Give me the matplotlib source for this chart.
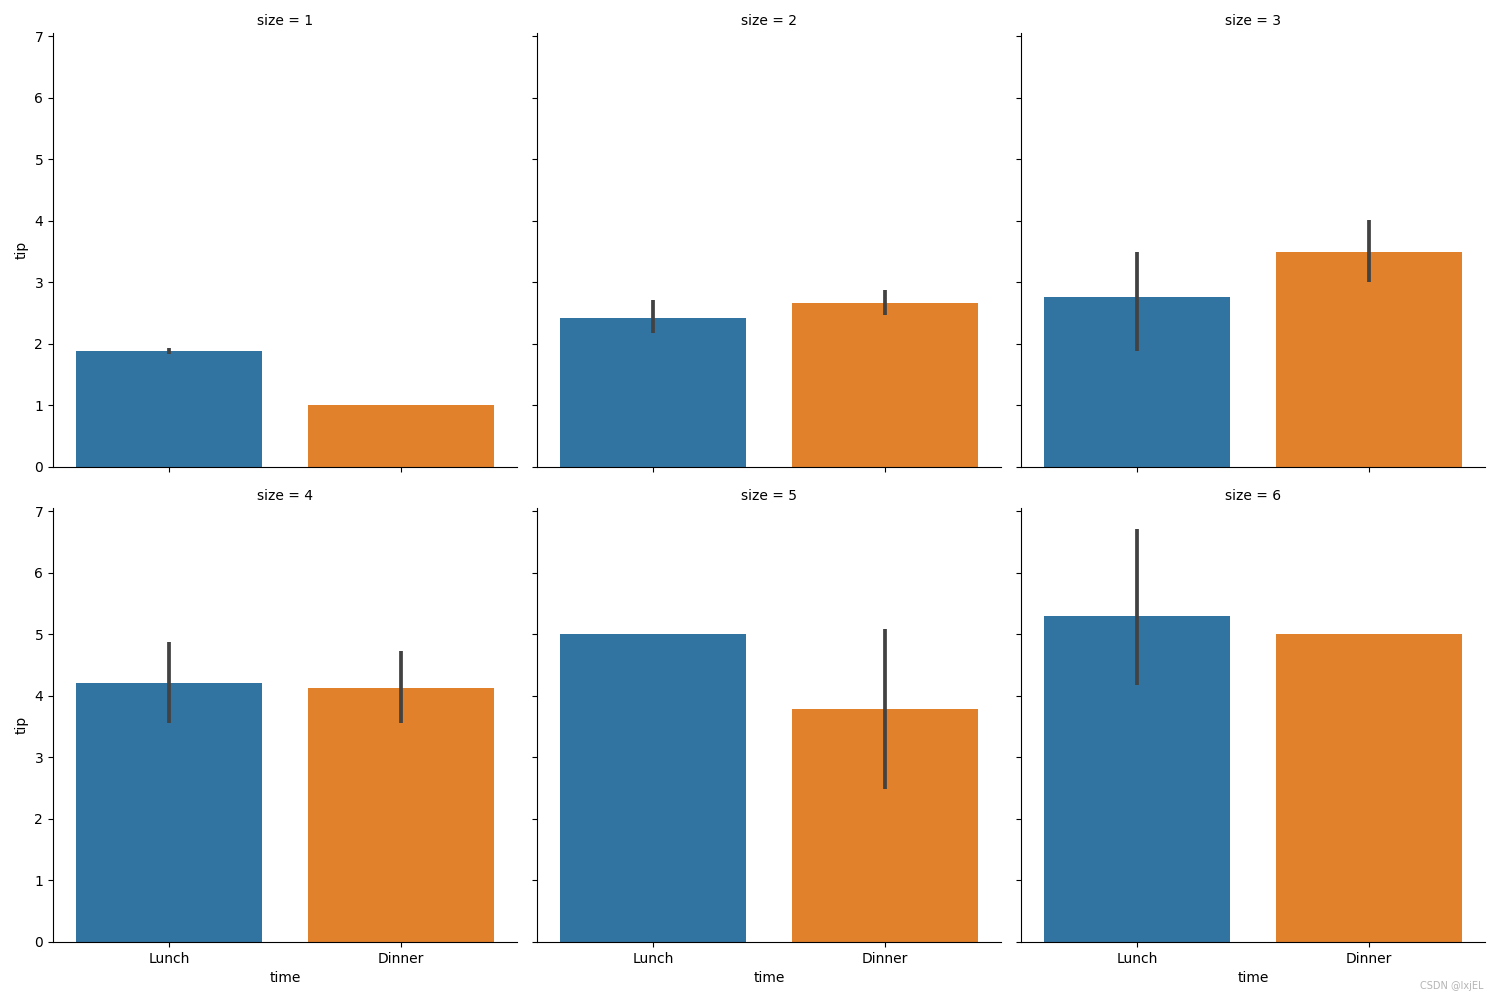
import matplotlib
matplotlib.use("Agg")
import matplotlib.pyplot as plt
import numpy as np

times = ["Lunch", "Dinner"]
sizes = [1, 2, 3, 4, 5, 6]
# mean tip per (size, time)
tip_mean = {
    1: [1.88, 1.00],
    2: [2.42, 2.66],
    3: [2.76, 3.49],
    4: [4.20, 4.13],
    5: [5.00, 3.78],
    6: [5.29, 5.00],
}
# 95% CI low/high per (size, time); None = no error bar
ci_low = {
    1: [1.83, None],
    2: [2.18, 2.47],
    3: [1.89, 3.00],
    4: [3.55, 3.56],
    5: [None, 2.49],
    6: [4.18, None],
}
ci_high = {
    1: [1.93, None],
    2: [2.72, 2.88],
    3: [3.50, 4.02],
    4: [4.88, 4.73],
    5: [None, 5.09],
    6: [6.71, None],
}
colors = ["#3274a1", "#e1812c"]

fig, axes = plt.subplots(2, 3, figsize=(15, 10), dpi=100, sharex=True, sharey=True)
fig.subplots_adjust(left=0.0353, right=0.99, top=0.967, bottom=0.058,
                    wspace=0.043, hspace=0.0945)

x = np.arange(len(times))
for i, s in enumerate(sizes):
    ax = axes.flat[i]
    ax.bar(x, tip_mean[s], width=0.8, color=colors)
    for j in range(len(times)):
        lo, hi = ci_low[s][j], ci_high[s][j]
        if lo is not None:
            ax.plot([x[j], x[j]], [lo, hi], color="#424242", lw=2.7,
                    solid_capstyle="butt")
    ax.set_title(f"size = {s}", fontsize=10)
    ax.spines["top"].set_visible(False)
    ax.spines["right"].set_visible(False)
    ax.set_xlim(-0.5, 1.5)
    ax.set_ylim(0, 7.05)
    ax.set_yticks(range(0, 8))
    ax.set_xticks(x)
    ax.set_xticklabels(times)
    if i % 3 == 0:
        ax.set_ylabel("tip")
    if i >= 3:
        ax.set_xlabel("time")

fig.text(0.989, 0.009, "CSDN @lxjEL", ha="right", va="bottom",
         fontsize=7, color="#b5b5b5")

fig.savefig("out.png", dpi=100)
